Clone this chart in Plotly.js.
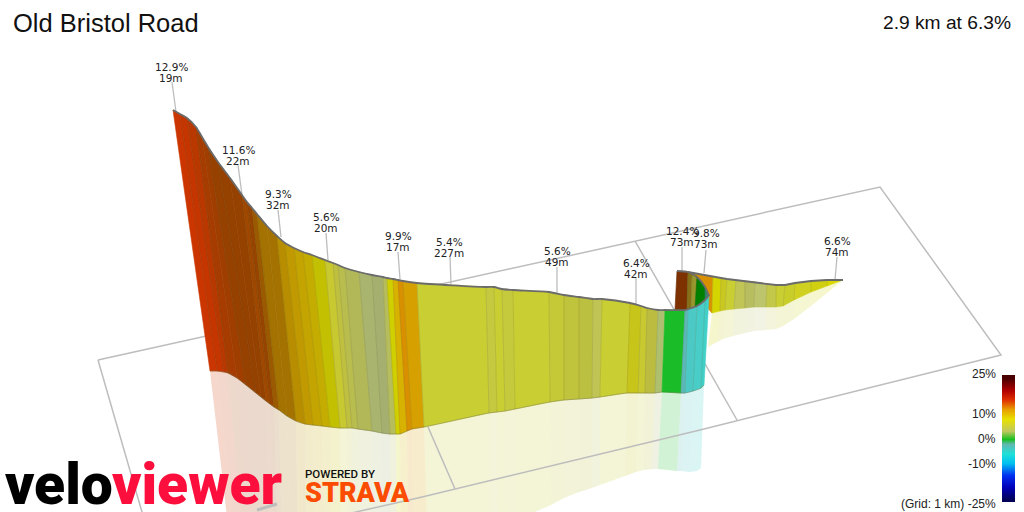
<!DOCTYPE html>
<html><head><meta charset="utf-8">
<script src="https://cdn.plot.ly/plotly-3.0.1.min.js"></script>
<style>html,body{margin:0;padding:0;background:#fff}#c{width:1024px;height:512px}</style>
</head><body><div id="c"></div>
<script>
// near part of the climb: ribbon top, ribbon base, reflection edge, gradient colour
const nearTopX=[173,180,187,196,202,208,218,230,242,247,252,257,267,277,285,294,303,312,325,333,338,345,359,372,383,387,393,398,403,417,486,494,502,513,549,564,579,593,602,630,641,647,658,665,685,688,697,705,709];
const nearTopY=[110,114,118,127,137,147,162,178,195,202,208,214,226,236,243,248,252,255,260,263,265,268,272,275,277,278,279,280,281,283,287,287,289,290,292,295,297,299,299,303,306,308,310,310,310,309,306,300,295];
const nearBaseX=[210,217,224,228,237,246,256,261,266,270,274,279,287,296,305,313,322,330,340,347,352,358,372,382,390,396,400,407,412,424,489,497,505,515,550,564,579,592,600,627,638,645,655,662,681,685,693,701,704];
const nearBaseY=[371,371,372,373,378,385,393,397,401,404,407,410,416,421,424,425,426,427,428,428,428,429,431,433,434,434,434,431,429,427,413,412,411,409,402,400,399,398,397,393,393,393,393,392,393,393,391,388,385];
const nearReflX=[232,238,244,246,251,256,262,266,270,274,278,282,290,298,306,314,323,331,341,348,353,359,373,383,391,397,401,409,414,428,490,498,506,516,551,564,579,592,600,625,636,644,652,658,677,681,689,697,701];
const nearReflY=[560,560,560,560,560,560,560,560,560,560,560,560,560,560,560,560,560,560,560,560,560,560,560,560,560,560,560,560,560,560,532,529,525,520,505,498,492,488,485,476,472,470,469,469,471,471,472,471,468];
const nearColor=['#cb3600','#c53500','#b83800','#a63c00','#a03e00','#974100','#954100','#954100','#a04800','#964400','#9c5a00','#a37200','#a37200','#b88e00','#c09a00','#c4a400','#c4ad00','#c2c000','#c8c830','#bfc040','#b8bd4d','#b2b858','#a9b56e','#a5b070','#b5bd5c','#d0d000','#d8b200','#d89000','#d6a000','#c9ce33','#c4c93f','#c9ce33','#c5ca3c','#c9ce33','#c5c938','#c0c43c','#bcc040','#c0c455','#c9ce33','#c8c51a','#c8c830','#bcbd40','#aec070','#1abc28','#5cb8b8','#4dc9c5','#48cdc8','#40d0c8'];
// which stations carry a visible dividing stroke on the near wall (1 = yes)
const nearStroke=[0,1,1,1,0,1,1,0,1,1,1,1,0,1,1,1,1,1,1,1,1,1,1,1,1,1,1,1,1,1,1,1,1,1,1,1,1,1,1,1,1,1,1,0,1,1,1,1,0];
// part of the curve seen from inside, behind the front wall
const backTopX=[677,688,692,697,705,709];
const backTopY=[271,272,274,277,287,296];
const backBaseX=[675,687,691,695,705,709];
const backBaseY=[310,310,309,308,300,296];
const backColor=['#7d3000','#857018','#98962c','#008000','#2a8a6a'];
// far part of the climb, running away to the right
const farTopX=[688,713,721,727,736,745,755,767,776,785,795,811,827,843];
const farTopY=[272,277,278,279,280,281,282,284,285,285,283,281,280,280];
const farBaseX=[700,712,720,725,734,745,754,766,776,783,794,811,827,843];
const farBaseY=[300,313,311,310,309,308,307,307,307,306,300,292,286,280];
const farReflX=[708,717,723,733,745,754,766,776,783,794,811,827,843];
const farReflY=[347,342,339,336,333,331,330,329,326,319,306,293,280];
const farColor=['#d99000','#d4d400','#c8c820','#c9ce33','#c0c555','#b8bd60','#bcc46c','#c4c84a','#c9ce33','#c8cd2a','#cfd020','#d0d010','#d8d800'];
// 1 km ground grid
const gridX=[[98,880,1001,700,420,250],[98,142],[635,737],[428,455],[257,277]];
const gridY=[[360,187,355,430,497.5,536],[360,512],[241,420],[427,489],[510,504]];
const gridW=[1.5,1.5,1.5,1.5,3];
// segment labels
const labelPct=['12.9%','11.6%','9.3%','5.6%','9.9%','5.4%','5.6%','6.4%','12.4%','9.8%','6.6%'];
const labelLen=['19m','22m','32m','20m','17m','227m','49m','42m','73m','73m','74m'];
const labelX=[171,238,278,326,398,449,557,636,682,706,837];
const labelY=[67,150,194,217,236,242,251,263,231,233,241];
const leaderX0=[172,238,278,326,398,450,557,636,682,706,837];
const leaderY0=[82,165,210,233,252,257,267,278,247,250,257];
const leaderX1=[176,242,281,328,400,451,557,636,682,704,835];
const leaderY1=[112,195,237,260,279,284,293,304,272,273,280];
// gradient legend
const legendText=['25%','10%','0%','-10%','(Grid: 1 km) -25%'];
const legendY=[374,414,439,464,504];
const scaleZ=[-25,-22.5,-20,-17.5,-15,-12.5,-10,-7.5,-5,-2.5,0,2.5,5,7.5,10,12.5,15,17.5,20,22.5,25];
const scaleY=[499,493,487,481,475,469,463,456.8,450.7,444.6,438.5,432.4,426.3,420.2,414,408,402,396,390,384,378];
const scaleColors=[[0,'#00005a'],[0.1,'#0000b8'],[0.2,'#0030f0'],[0.3,'#00c0f0'],[0.38,'#20e0d8'],[0.46,'#60b8b0'],[0.5,'#18c020'],[0.56,'#c0c860'],[0.66,'#e8e000'],[0.74,'#e8a000'],[0.82,'#e03000'],[0.9,'#b00000'],[1,'#4a0000']];

const traces=[];
function poly(xs,ys,fill,opacity,w){
  traces.push({type:'scatter',mode:'lines',x:xs,y:ys,fill:'toself',fillcolor:fill,opacity:opacity,
    line:{color:fill,width:w},hoverinfo:'skip',showlegend:false});
}
function stroke(x,y,c,w,shape){
  traces.push({type:'scatter',mode:'lines',x:x,y:y,line:{color:c,width:w,shape:shape||'linear',smoothing:0.8},hoverinfo:'skip',showlegend:false});
}
function ribbon(tx,ty,bx,by,cols,op,w){
  for(let i=0;i<cols.length;i++){
    poly([tx[i],tx[i+1],bx[i+1],bx[i],tx[i]],[ty[i],ty[i+1],by[i+1],by[i],ty[i]],cols[i],op,w);
  }
}
function dividers(tx,ty,bx,by,c,flags){
  tx.forEach((_,i)=>{ if(!flags||flags[i]) stroke([tx[i],bx[i]],[ty[i],by[i]],c,0.7); });
}
// reflections first, then the grid on top of them, then the walls
ribbon(nearBaseX,nearBaseY,nearReflX,nearReflY,nearColor,0.2,0);
ribbon(farBaseX.slice(1),farBaseY.slice(1),farReflX,farReflY,farColor.slice(1),0.2,0);
gridX.forEach((g,i)=>stroke(g,gridY[i],'#bdbdbd',gridW[i]));
labelX.forEach((_,i)=>stroke([leaderX0[i],leaderX1[i]],[leaderY0[i],leaderY1[i]],'#bdbdbd',1.3));
ribbon(farTopX,farTopY,farBaseX,farBaseY,farColor,1,0.6);
dividers(farTopX.slice(1),farTopY.slice(1),farBaseX.slice(1),farBaseY.slice(1),'rgba(90,90,40,0.22)');
ribbon(backTopX,backTopY,backBaseX,backBaseY,backColor,1,0.6);
dividers(backTopX,backTopY,backBaseX,backBaseY,'rgba(60,60,30,0.22)');
ribbon(nearTopX,nearTopY,nearBaseX,nearBaseY,nearColor,1,0.6);
dividers(nearTopX,nearTopY,nearBaseX,nearBaseY,'rgba(80,70,20,0.22)',nearStroke);
// outline along the road
stroke(nearTopX,nearTopY,'#6b6b6b',1.8,'spline');
stroke(backTopX,backTopY,'#6b6b6b',1.8,'spline');
stroke(farTopX,farTopY,'#6b6b6b',1.8,'linear');
stroke(nearBaseX,nearBaseY,'rgba(110,110,70,0.55)',0.8,'spline');
traces.push({type:'heatmap',x:[1005.25,1011.75],y:scaleY,z:scaleZ.map(v=>[v,v]),zmin:-25,zmax:25,zsmooth:'best',colorscale:scaleColors,showscale:false,hoverinfo:'skip'});

const ann=[];
function txt(x,y,s,size,col,anchor,fam,weight){
  ann.push({x:x,y:y,xref:'x',yref:'y',text:s,showarrow:false,xanchor:anchor,yanchor:'middle',
    font:{size:size,color:col,family:fam,weight:weight||400},borderpad:0,borderwidth:0});
}
const DV='"DejaVu Sans"',LS='"Liberation Sans"',RB='Roboto';
labelX.forEach((x,i)=>{
  txt(x,labelY[i],labelPct[i],10.5,'#222','center',DV);
  txt(x,labelY[i]+10.5,labelLen[i],10.5,'#222','center',DV);
});
txt(13,23,'Old Bristol Road',25.5,'#111','left',LS);
txt(1011,22,'2.9 km at 6.3%',19.2,'#111','right',LS);
legendText.forEach((t,i)=>txt(996,legendY[i],t,12,'#222','right',LS));
txt(5,484,'velo',57,'#000','left',RB,900);
txt(112,484,'viewer',57,'#fc0f3c','left',RB,900);
txt(305,474,'POWERED BY',11.5,'#111','left',RB,500);
txt(305,493,'STRAVA',27,'#fc4c02','left',RB,900);

Plotly.newPlot('c',traces,{
  width:1024,height:512,margin:{l:0,r:0,t:0,b:0},paper_bgcolor:'#fff',plot_bgcolor:'#fff',showlegend:false,
  xaxis:{range:[0,1024],visible:false,fixedrange:true},
  yaxis:{range:[512,0],visible:false,fixedrange:true},
  annotations:ann
},{displayModeBar:false,staticPlot:true});
</script></body></html>
